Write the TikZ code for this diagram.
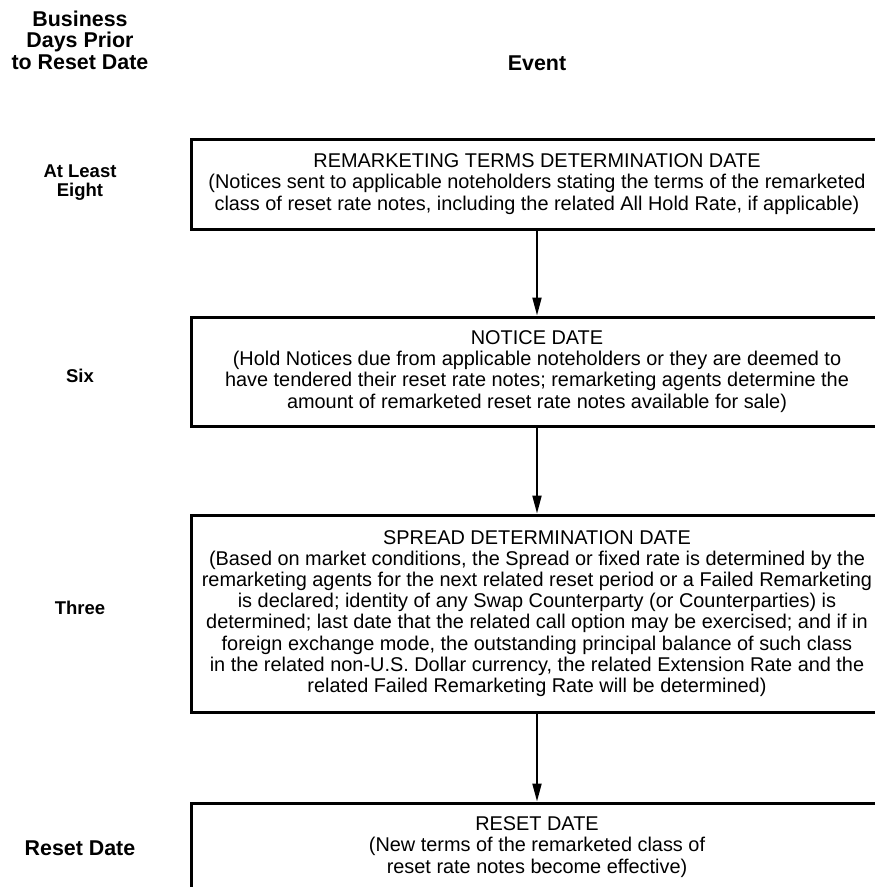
\documentclass[tikz,border=0pt]{standalone}
\usepackage{fontspec}
\setmainfont{Liberation Sans}
\usetikzlibrary{arrows.meta}
\begin{document}
\begin{tikzpicture}[x=1pt,y=-1pt,
  evbox/.style={draw, line width=3pt, minimum width=692pt, inner sep=0pt,
    align=center, font=\fontsize{19.9}{21.2}\selectfont},
  rowlab/.style={font=\bfseries\fontsize{18.5}{18.5}\selectfont, align=center},
  headlab/.style={font=\bfseries\fontsize{21.4}{21.5}\selectfont, align=center},
  conn/.style={line width=2pt, -{Triangle[length=18pt,width=9pt]}}]
\useasboundingbox (0,0) rectangle (875,887);

% headers
\node[headlab] (hdays) at (80,39.9) {Business\\Days Prior\\to Reset Date};
\node[headlab, anchor=base] (hevent) at (537,70) {Event};

% event boxes
\node[evbox, minimum height=90pt] (b1) at (537,184)
  {REMARKETING TERMS DETERMINATION DATE\\
   (Notices sent to applicable noteholders stating the terms of the remarketed\\
   class of reset rate notes, including the related All Hold Rate, if applicable)};
\node[evbox, minimum height=109pt] (b2) at (537,371.5)
  {NOTICE DATE\\
   (Hold Notices due from applicable noteholders or they are deemed to\\
   have tendered their reset rate notes; remarketing agents determine the\\
   amount of remarketed reset rate notes available for sale)};
\node[evbox, minimum height=197pt] (b3) at (537,613.5)
  {SPREAD DETERMINATION DATE\\
   (Based on market conditions, the Spread or fixed rate is determined by the\\
   remarketing agents for the next related reset period or a Failed Remarketing\\
   is declared; identity of any Swap Counterparty (or Counterparties) is\\
   determined; last date that the related call option may be exercised; and if in\\
   foreign exchange mode, the outstanding principal balance of such class\\
   in the related non-U.S. Dollar currency, the related Extension Rate and the\\
   related Failed Remarketing Rate will be determined)};
\node[evbox, minimum height=88pt] (b4) at (537,847)
  {RESET DATE\\
   (New terms of the remarketed class of\\
   reset rate notes become effective)};

% row labels
\node[rowlab] (l1) at (80,182.6) {At Least\\Eight};
\node[rowlab, anchor=base] (l2) at (80,382) {Six};
\node[rowlab, anchor=base] (l3) at (80,614) {Three};
\node[headlab, anchor=base] (l4) at (80,855) {Reset Date};

% connectors
\draw[conn] (b1) -- (b2);
\draw[conn] (b2) -- (b3);
\draw[conn] (b3) -- (b4);
\end{tikzpicture}
\end{document}
